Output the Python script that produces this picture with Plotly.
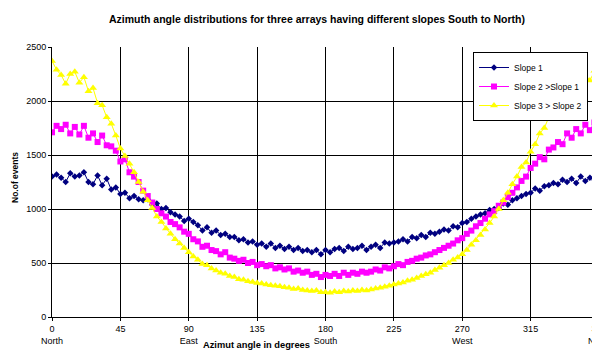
import plotly.graph_objects as go

angles = list(range(0, 361, 3))

slope1 = [1300, 1320, 1290, 1250, 1330, 1300, 1310, 1340, 1250, 1230,
          1310, 1220, 1280, 1180, 1200, 1140, 1150, 1100, 1120, 1090,
          1080, 1090, 1040, 1050, 1000, 1010, 970, 950, 930, 890,
          910, 880, 850, 800, 830, 780, 800, 760, 770, 740,
          740, 710, 720, 690, 700, 670, 680, 650, 680, 640,
          660, 630, 650, 620, 640, 610, 620, 600, 620, 580,
          620, 600, 630, 640, 610, 650, 630, 640, 660, 620,
          650, 670, 640, 690, 680, 690, 700, 720, 700, 740,
          730, 760, 740, 780, 770, 790, 810, 800, 840, 830,
          870, 880, 910, 930, 950, 960, 990, 1000, 1010, 1050,
          1040, 1080, 1100, 1120, 1140, 1150, 1190, 1170, 1210, 1220,
          1240, 1230, 1270, 1250, 1280, 1240, 1300, 1260, 1290, 1270,
          1290]

slope2 = [1710, 1770, 1740, 1780, 1700, 1760, 1690, 1770, 1660, 1700,
          1620, 1680, 1590, 1580, 1540, 1440, 1460, 1340, 1300, 1250,
          1170, 1120, 1060, 1000, 960, 930, 880, 860, 830, 790,
          770, 720, 700, 650, 660, 620, 610, 580, 600, 550,
          540, 520, 530, 500, 510, 480, 490, 470, 480, 450,
          460, 440, 450, 420, 430, 410, 420, 390, 400, 370,
          390, 380, 400, 380, 410, 390, 410, 400, 420, 410,
          420, 440, 430, 460, 450, 470, 490, 480, 510, 520,
          540, 550, 570, 580, 600, 620, 640, 660, 680, 710,
          730, 770, 800, 840, 870, 910, 950, 980, 1030, 1060,
          1110, 1150, 1200, 1260, 1300, 1380, 1420, 1480, 1460, 1550,
          1570, 1620, 1600, 1700, 1660, 1740, 1700, 1780, 1730, 1800,
          1760]

slope3 = [2370, 2290, 2240, 2160, 2250, 2270, 2170, 2220, 2090, 2120,
          1980, 1960, 1850, 1790, 1680, 1560, 1490, 1420, 1340, 1250,
          1160, 1080, 1010, 930, 880, 820, 770, 720, 680, 640,
          600, 560, 530, 490, 480, 450, 430, 410, 400, 380,
          370, 350, 345, 330, 325, 315, 310, 300, 295, 290,
          285, 275, 270, 260, 265, 250, 245, 240, 245, 230,
          230, 225, 235, 230, 240, 235, 245, 240, 250, 245,
          255, 265, 270, 280, 290, 300, 310, 320, 335, 345,
          360, 380, 395, 410, 435, 455, 480, 500, 530, 550,
          580, 620, 670, 710, 760, 810, 870, 930, 1000, 1080,
          1150, 1230, 1300, 1390, 1430, 1530, 1600, 1700, 1750, 1850,
          1900, 1960, 1990, 2050, 2040, 2130, 2100, 2220, 2190, 2280,
          2360]

tick_vals = [0, 45, 90, 135, 180, 225, 270, 315, 360]
tick_text = ["0<br>North", "45", "90<br>East", "135", "180<br>South",
             "225", "270<br>West", "315", "360<br>North"]
y_ticks = [0, 500, 1000, 1500, 2000, 2500]

names = ["Slope 1", "Slope 2 >Slope 1", "Slope 3 > Slope 2"]
colors = ["#000080", "#FF00FF", "#FFFF00"]
symbols = ["diamond", "square", "triangle-up"]
sizes = [5, 6, 7]

fig = go.Figure()
for ys, nm, c, s, sz in zip([slope1, slope2, slope3], names, colors, symbols, sizes):
    fig.add_trace(go.Scatter(
        x=angles, y=ys, name=nm, mode="lines+markers",
        line=dict(color=c, width=1),
        marker=dict(symbol=s, size=sz, color=c, line=dict(width=0)),
    ))

FONT = "Arial, Liberation Sans, sans-serif"

# page body has an 8px margin, so the figure is sized to the visible area
fig.update_layout(
    width=592, height=343,
    margin=dict(l=44, r=1, t=39, b=34, autoexpand=False),
    paper_bgcolor="white", plot_bgcolor="white",
    font=dict(family=FONT, size=9, color="#000000"),
    showlegend=True,
    legend=dict(x=(588-52)/547, y=1-(52-47)/270, xanchor="right", yanchor="top",
                bgcolor="white", bordercolor="#000000", borderwidth=1,
                font=dict(size=8.5), tracegroupgap=0, itemwidth=30),
)

fig.update_xaxes(range=[0, 360], tickvals=tick_vals, ticktext=tick_text,
                 showgrid=True, gridcolor="#000000", gridwidth=1,
                 showline=True, linecolor="#000000", linewidth=1,
                 ticks="outside", ticklen=3, tickcolor="#000000",
                 ticklabelstandoff=0, automargin=False, ticklabeloverflow="allow",
                 zeroline=False, tickfont=dict(size=9, color="#000000"))
fig.update_yaxes(range=[0, 2500], tickvals=y_ticks,
                 showgrid=True, gridcolor="#000000", gridwidth=1,
                 showline=True, linecolor="#000000", linewidth=1,
                 ticks="outside", ticklen=3, tickcolor="#000000",
                 automargin=False,
                 zeroline=False, tickfont=dict(size=9, color="#000000"))

fig.add_annotation(text="<b>Azimuth angle distributions for three arrays having different slopes South to North)</b>",
                   xref="paper", yref="paper", x=(317-52)/547, y=1+(47-19)/270,
                   xanchor="center", yanchor="middle", showarrow=False,
                   font=dict(size=10.5, color="#000000", family=FONT, weight="bold"))
fig.add_annotation(text="<b>No.of events</b>", xref="paper", yref="paper",
                   x=(15-52)/547, y=(317-178)/270, textangle=-90, showarrow=False,
                   xanchor="center", yanchor="middle",
                   font=dict(size=8.5, color="#000000", weight="bold"))
fig.add_annotation(text="<b>Azimut angle in degrees</b>", xref="paper", yref="paper",
                   x=(256-52)/547, y=(317-345)/270, showarrow=False,
                   xanchor="center", yanchor="middle",
                   font=dict(size=9.3, color="#000000", weight="bold"))

fig.write_html("out.html")
